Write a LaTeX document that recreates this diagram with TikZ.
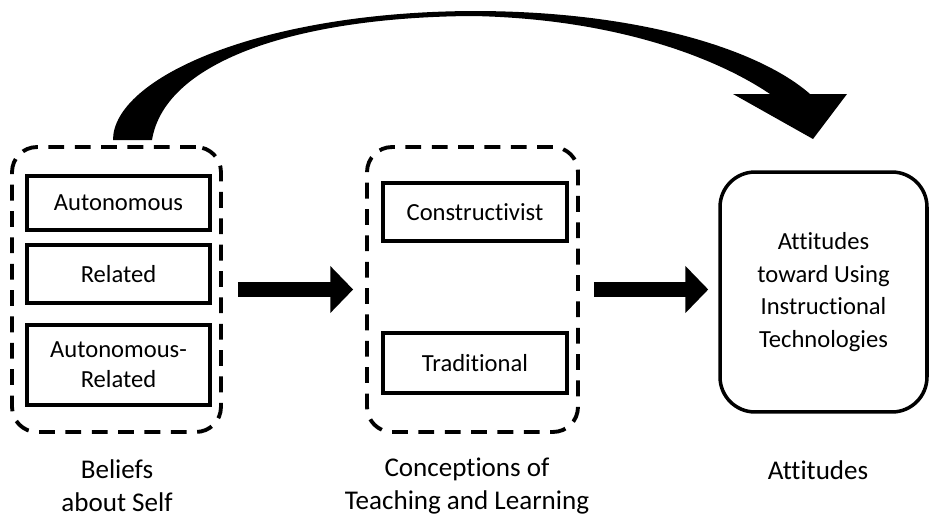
\documentclass[tikz,border=0pt]{standalone}
\usepackage{fontspec}
\setmainfont{Carlito}[Ligatures = NoCommon]
\usetikzlibrary{arrows.meta}
\tikzset{group/.style = {draw, line width = 2.2pt, dash pattern = on 9pt off 6pt, rounded corners = 0.5cm, minimum height = 5.7cm}}
\tikzset{item/.style = {draw, line width = 2.5pt, minimum width = 3.66cm, align = center, font = \fontsize{14}{17}\selectfont}}
\tikzset{outcome/.style = {draw, line width = 2pt, rounded corners = 0.7cm, minimum width = 4.14cm, minimum height = 4.8cm, align = center, font = \fontsize{14}{18.7}\selectfont}}
\tikzset{caption/.style = {align = center, font = \fontsize{15.4}{18.7}\selectfont}}
\tikzset{bigarrow/.style = {line width = 9pt, -{Triangle[length = 13pt, width = 26pt]}}}

\begin{document}
\begin{tikzpicture}[x = 0.02cm, y = -0.02cm]
	\useasboundingbox (0, 0) rectangle (929, 518);

	\node[group, minimum width = 4.18cm] (self) at (116.5, 289.5) {};
	\node[group, minimum width = 4.22cm] (conc) at (472.5, 289.5) {};

	\node[item, minimum height = 1.08cm] (auto) at (118.5, 203) {Autonomous};
	\node[item, minimum height = 1.16cm] (rel) at (118.5, 274) {Related};
	\node[item, minimum height = 1.6cm] (autorel) at (118.5, 365) {Autonomous-\\Related};
	\node[item, minimum width = 3.68cm, minimum height = 1.16cm] (cons) at (475, 212) {Constructivist};
	\node[item, minimum width = 3.68cm, minimum height = 1.2cm] (trad) at (475, 363) {Traditional};
	\node[outcome] (att) at (823.5, 292) {Attitudes\\toward Using\\Instructional\\Technologies};

	\node[caption] (selflabel) at (117, 486) {Beliefs\\about Self};
	\node[caption] (conclabel) at (467, 486) {Conceptions of\\Teaching and Learning};
	\node[caption] (attlabel) at (818, 470) {Attitudes};

	\draw[bigarrow, shorten <= 8.5pt, shorten >= 6.8pt] (self.east) -- (conc.west);
	\draw[bigarrow, shorten <= 8pt, shorten >= 5.7pt] (conc.east) -- (conc.east -| att.west);

	% curved arrow from the beliefs to the attitudes
	\coordinate (base) at (113, 140);
	\coordinate (tip) at (813, 139);
	\fill (base) .. controls (113, 78) and (260, 12) .. (473, 11)
		.. controls (640, 11) and (760, 50) .. (810, 94) -- (847, 94) -- (tip) -- (733, 94) -- (770, 94)
		.. controls (720, 60) and (620, 19) .. (473, 16)
		.. controls (300, 17) and (165, 60) .. (152, 140) -- cycle;
\end{tikzpicture}
\end{document}
